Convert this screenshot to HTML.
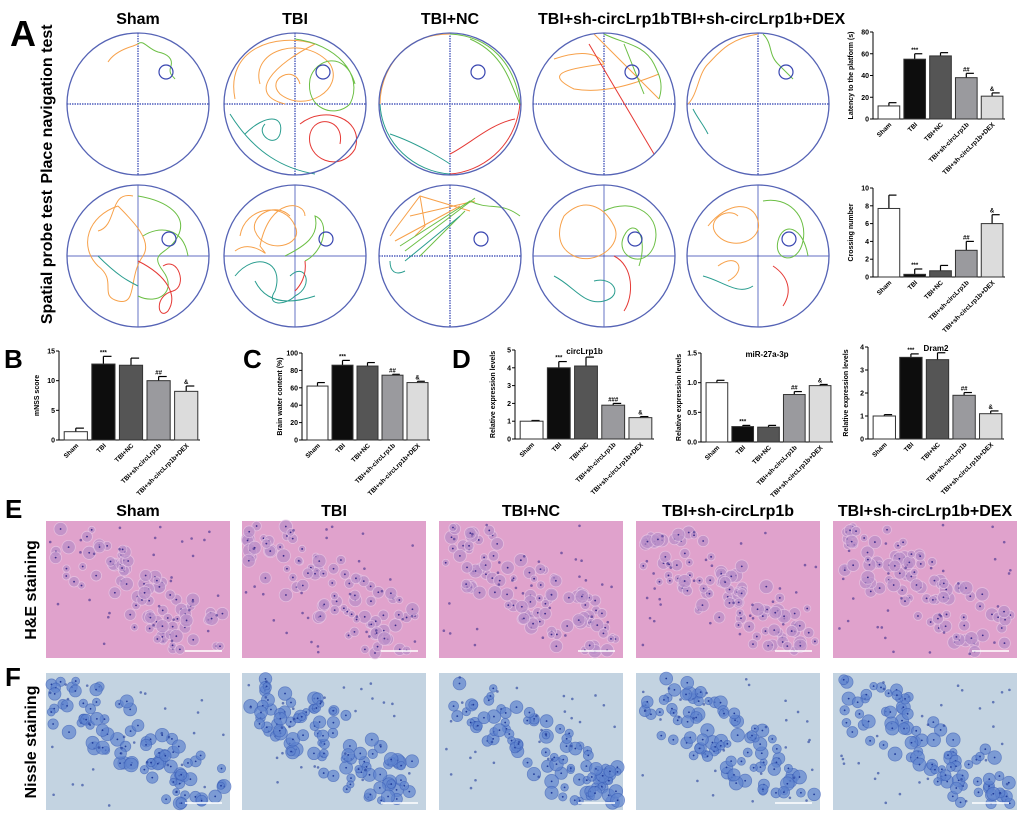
<!DOCTYPE html>
<html><head><meta charset="utf-8">
<style>
html,body{margin:0;padding:0;background:#fff;}
svg{display:block;font-family:"Liberation Sans",Arial,sans-serif;}
</style></head>
<body>
<svg id="fig" width="1020" height="815" viewBox="0 0 1020 815">
<g id="labels" font-weight="bold" fill="#000">
  <text x="10" y="46" font-size="36">A</text>
  <text x="4" y="368" font-size="26">B</text>
  <text x="243" y="368" font-size="26">C</text>
  <text x="452" y="368" font-size="26">D</text>
  <text x="5" y="518" font-size="26">E</text>
  <text x="5" y="686" font-size="26">F</text>
  <text transform="translate(52,104) rotate(-90)" text-anchor="middle" font-size="16">Place navigation test</text>
  <text transform="translate(52,257) rotate(-90)" text-anchor="middle" font-size="16">Spatial probe test</text>
  <text transform="translate(36,590) rotate(-90)" text-anchor="middle" font-size="16">H&amp;E staining</text>
  <text transform="translate(36,742) rotate(-90)" text-anchor="middle" font-size="16">Nissle staining</text>
</g>
<g id="maze"></g>
<g id="charts"></g>
<g id="histo"></g>
</svg>
<script>
const NS="http://www.w3.org/2000/svg";
function mk(tag,attrs,parent){const e=document.createElementNS(NS,tag);for(const k in attrs)e.setAttribute(k,attrs[k]);if(parent)parent.appendChild(e);return e;}

const groups=["Sham","TBI","TBI+NC","TBI+sh-circLrp1b","TBI+sh-circLrp1b+DEX"];
const groupLabels=["Sham","TBI","TBI+NC","TBI+sh-circLrp1b","TBI+sh-circLrp1b+DEX"];

// ---- Morris water maze ----
const mazeCx=[138,295,450,604,758];
const mazeRowY=[104,256];
const platformOff=[[28,-32],[31,-17]];
const maze=document.getElementById('maze');
const tracks=[
 [[["#f7a14a","M-30,-42 C-25,-50 -15,-55 -5,-58 L0,-60"],["#6cbf45","M0,-60 C5,-65 10,-55 20,-52 C30,-50 35,-45 33,-38 C30,-30 35,-28 37,-25"]],
  [["#f7a14a","M-35,-20 C-45,-55 10,-70 35,-40 C50,-15 10,10 -15,-10 C-30,-25 0,-40 5,-20"],["#f7a14a","M-60,-5 C-70,-55 -20,-72 20,-60 C-20,-40 -50,-10 -10,0"],["#6cbf45","M0,-65 C40,-60 70,-30 55,0 C40,15 10,5 15,-25 C20,-45 50,-55 60,-20"],["#e53935","M5,20 C30,0 70,15 60,45 C45,70 10,55 15,30 C20,10 50,15 45,40"],["#2a9d8f","M-65,10 C-40,50 -10,65 20,70 M-50,30 C-30,10 -10,10 -15,30 C-20,45 -40,30 -30,20"]],
  [["#f7a14a","M0,-70 C-50,-70 -70,-30 -70,0"],["#6cbf45","M0,-70 C40,-68 65,-40 70,0 C60,-20 55,-50 20,-65"],["#e53935","M70,0 C65,45 30,68 0,70 M65,15 C40,20 20,40 0,50"],["#2a9d8f","M-70,0 C-68,40 -35,68 0,70 M-60,30 C-30,40 0,60 0,60"]],
  [["#f7a14a","M-50,-45 C-20,-55 -5,-50 0,-40 C-40,-35 -60,-30 -30,-15 C0,-10 30,-20 55,-30 M-10,-70 L55,-5"],["#6cbf45","M0,-70 C20,-60 40,-60 50,-40 C55,-30 60,-20 55,-5 M20,-60 L40,-10"],["#e53935","M-15,-60 L50,50"]],
  [["#f7a14a","M0,-70 C-30,-65 -40,-50 -50,-40 C-60,-30 -60,-10 -70,0"],["#6cbf45","M5,-70 C15,-60 10,-50 20,-40 C25,-35 30,-30 35,-25"],["#2a9d8f","M-65,5 C-60,15 -55,20 -50,30"]]],
 [[["#f7a14a","M-20,-50 C-50,-40 -60,-10 -40,10 C-20,25 -40,40 -20,45 C0,50 -10,20 5,0 C15,-15 -5,-35 -20,-50 M-5,-60 C-30,-65 -20,-30 -40,-25"],["#6cbf45","M0,-60 C30,-55 50,-40 40,-20 C30,0 10,-5 25,15 C40,35 20,50 0,40 M5,-20 C20,-30 45,-30 50,0"],["#2a9d8f","M-40,0 C-20,20 -10,25 0,30"],["#e53935","M0,5 C30,20 40,40 30,55 C20,65 15,40 35,35 C50,30 40,0 25,10"]],
  [["#f7a14a","M-55,-20 C-50,-50 -10,-55 0,-30 C10,-10 -30,0 -40,-25 C-45,-40 -20,-55 -5,-40 M-60,-5 C-40,-20 -20,10 -35,-10 C-25,-60 10,-55 10,-40"],["#2a9d8f","M-60,20 C-40,-5 -10,5 -20,35 C-30,50 -10,50 0,40 C20,30 10,5 -5,20 M-40,25 C-30,45 -10,50 20,40"],["#6cbf45","M-10,0 C10,-10 25,-20 20,-40 C35,-35 30,-5 10,5"],["#e53935","M10,5 C12,20 5,30 0,35"]],
  [["#f7a14a","M-60,-20 L-30,-60 L20,-45 M-55,-15 L10,-50 M-40,-40 L25,-55 M-30,-60 L-25,-30 L-35,-20"],["#6cbf45","M-50,-10 L20,-55 C40,-45 50,-55 70,-40 M-30,0 L15,-45 M-45,-5 L25,-58"],["#2a9d8f","M-45,5 L10,-40 M-60,5 C-60,15 -55,20 -45,15"]],
  [["#f7a14a","M-40,-40 C-20,-60 0,-50 10,-30 C20,-10 -10,10 -30,0 C-50,-10 -45,-30 -40,-40"],["#6cbf45","M0,-45 C30,-60 60,-40 50,-10 C40,15 10,0 20,-20 C30,-40 45,-20 35,10"],["#2a9d8f","M-50,20 C-30,30 -20,50 0,45 C20,40 10,20 -10,25"],["#e53935","M10,0 C30,10 30,40 20,55"]],
  [["#f7a14a","M-50,-30 C-30,-55 -5,-55 0,-35 C5,-15 -25,-5 -40,-20 C-55,-35 -30,-50 -20,-40 M-40,10 C-20,-5 -10,15 -30,25"],["#6cbf45","M5,-55 C30,-60 50,-40 45,-15 C40,10 15,5 20,-15 C25,-35 45,-30 50,0"],["#2a9d8f","M-55,20 C-35,25 -20,40 -5,30"],["#e53935","M15,10 C30,20 35,35 25,50"]]]
];
mazeRowY.forEach((cy,r)=>{
 mazeCx.forEach((cx,i)=>{
  const g=mk('g',{},maze);
  
  
  const dotted=(r==0)||(i==2);
  mk('line',{x1:cx-71,y1:cy,x2:cx+71,y2:cy,stroke:'#2c3fb0','stroke-width':1.2,'stroke-dasharray':dotted?'1.5,1':'none',opacity:dotted?1:0.6},g);
  mk('line',{x1:cx,y1:cy-71,x2:cx,y2:cy+71,stroke:'#2c3fb0','stroke-width':1.2,'stroke-dasharray':dotted?'1.5,1':'none',opacity:dotted?1:0.6},g);
  tracks[r][i].forEach(t=>mk('path',{d:t[1],transform:`translate(${cx},${cy})`,fill:'none',stroke:t[0],'stroke-width':1},g));
  mk('circle',{cx:cx,cy:cy,r:71,fill:'none',stroke:'#5563b5','stroke-width':1.3},g);
  mk('circle',{cx:cx+platformOff[r][0],cy:cy+platformOff[r][1],r:7,fill:'none',stroke:'#3845b0','stroke-width':1.2},g);
  if(r==0){const t=mk('text',{x:cx,y:24,'text-anchor':'middle','font-size':16,'font-weight':'bold'},maze);t.textContent=groups[i];
   }
 });
});

// ---- Bar chart data ----
const latencyValues=[12,55,58,38,21];
const latencyErrors=[3,5,3,4,3];
const latencyAnn=["","***","","##","&"];
const latencyTicks=[0,20,40,60,80];
const crossingValues=[7.7,0.3,0.7,3,6];
const crossingErrors=[1.5,0.6,0.6,1,1];
const crossingAnn=["","***","","##","&"];
const crossingTicks=[0,2,4,6,8,10];
const mnssValues=[1.4,12.8,12.6,10,8.2];
const mnssErrors=[0.6,1.3,1.2,0.7,0.9];
const mnssAnn=["","***","","##","&"];
const mnssTicks=[0,5,10,15];
const waterValues=[62,86,85,74.5,66];
const waterErrors=[4,5.5,4,1,1.5];
const waterAnn=["","***","","##","&"];
const waterTicks=[0,20,40,60,80,100];
const circValues=[1,4,4.1,1.9,1.2];
const circErrors=[0.04,0.35,0.5,0.1,0.06];
const circAnn=["","***","","###","&"];
const circTicks=[0,1,2,3,4,5];
const mirValues=[1,0.26,0.25,0.8,0.95];
const mirErrors=[0.04,0.02,0.03,0.05,0.02];
const mirAnn=["","***","","##","&"];
const mirTicks=[0,0.5,1.0,1.5];
const dramValues=[1,3.55,3.45,1.9,1.1];
const dramErrors=[0.06,0.15,0.3,0.12,0.12];
const dramAnn=["","***","","##","&"];
const dramTicks=[0,1,2,3,4];
const barFills=["#ffffff","#0d0d0d","#555555","#9a9a9e","#dcdcdc"];

const charts=document.getElementById('charts');
function barChart(name,box,ticks,tickFmt,values,errors,ann,ylabel,title){
 const g=mk('g',{},charts);
 
 
 const ymax=ticks[ticks.length-1];
 const y=v=>box.y0-(v/ymax)*(box.y0-box.yt);
 const slot=(box.x1-box.x0-3)/values.length;
 const x=i=>box.x0+3+slot*i+slot*0.08;
 const bw=slot*0.84;
 mk('line',{x1:box.x0,y1:box.yt,x2:box.x0,y2:box.y0,stroke:'#000','stroke-width':1},g);
 mk('line',{x1:box.x0,y1:box.y0,x2:box.x1,y2:box.y0,stroke:'#000','stroke-width':1},g);
 ticks.forEach(t=>{
  mk('line',{x1:box.x0-3,y1:y(t),x2:box.x0,y2:y(t),stroke:'#000'},g);
  const tx=mk('text',{x:box.x0-4,y:y(t)+2.5,'text-anchor':'end','font-size':7,'font-weight':'bold'},g);
  tx.textContent=tickFmt(t);
  
  
 });
 values.forEach((v,i)=>{
  const ex=x(i)+bw/2;
  mk('line',{x1:ex,y1:y(v),x2:ex,y2:y(v+errors[i]),stroke:'#000','stroke-width':1.2},g);
  mk('line',{x1:ex,y1:y(v+errors[i]),x2:ex+bw*0.35,y2:y(v+errors[i]),stroke:'#000','stroke-width':1.2},g);
  const r=mk('rect',{x:x(i),y:y(v),width:bw,height:box.y0-y(v),fill:barFills[i],stroke:'#333','stroke-width':1},g);
  
  
  if(ann[i]){const a=mk('text',{x:ex,y:y(v+errors[i])-2,'text-anchor':'middle','font-size':6,'font-weight':'bold'},g);a.textContent=ann[i];
   }
  const lx=mk('text',{transform:`translate(${ex+3},${box.y0+6}) rotate(-45)`,'text-anchor':'end','font-size':6.5,'font-weight':'bold'},g);
  lx.textContent=groupLabels[i];
  
  
 });
 const yl=mk('text',{transform:`translate(${box.x0-20},${(box.y0+box.yt)/2}) rotate(-90)`,'text-anchor':'middle','font-size':7,'font-weight':'bold'},g);
 yl.textContent=ylabel;
 
 
 if(title){const t=mk('text',{x:(box.x0+box.x1)/2,y:box.yt+4,'text-anchor':'middle','font-size':8,'font-weight':'bold'},g);t.textContent=title;
  }
}
const intF=t=>String(t), oneF=t=>t.toFixed(1);
barChart('latency-chart',{x0:873,x1:1005,y0:119,yt:32},latencyTicks,intF,latencyValues,latencyErrors,latencyAnn,'Latency to the platform (s)');
barChart('crossing-chart',{x0:873,x1:1005,y0:277,yt:188},crossingTicks,intF,crossingValues,crossingErrors,crossingAnn,'Crossing number');
barChart('mnss-chart',{x0:59,x1:200,y0:440,yt:351},mnssTicks,intF,mnssValues,mnssErrors,mnssAnn,'mNSS score');
barChart('brain-water-chart',{x0:302,x1:430,y0:440,yt:353},waterTicks,intF,waterValues,waterErrors,waterAnn,'Brain water content (%)');
barChart('circlrp1b-chart',{x0:515,x1:654,y0:439,yt:350},circTicks,intF,circValues,circErrors,circAnn,'Relative expression levels','circLrp1b');
barChart('mir27a-chart',{x0:701,x1:833,y0:442,yt:353},mirTicks,oneF,mirValues,mirErrors,mirAnn,'Relative expression levels','miR-27a-3p');
barChart('dram2-chart',{x0:868,x1:1004,y0:439,yt:347},dramTicks,intF,dramValues,dramErrors,dramAnn,'Relative expression levels','Dram2');

// ---- Histology (decorative texture) ----
const histo=document.getElementById('histo');
const imgX=[46,242,439,636,833];
let seed=7;function rnd(){seed=(seed*16807)%2147483647;return seed/2147483647;}
function tissue(x0,y0,w,h,bg,cell,cellEdge,nuc,name){
 const g=mk('g',{},histo);
 
 
 mk('rect',{x:x0,y:y0,width:w,height:h,fill:bg},g);
 for(let k=0;k<110;k++){
  const t=rnd();const off=(rnd()-0.5)*75;
  const cx=x0+t*w, cy=y0+t*h*0.9+off+10;
  if(cy<y0+5||cy>y0+h-5||cx<x0+5||cx>x0+w-5)continue;
  const r=3.5+rnd()*3.5;
  mk('circle',{cx:cx,cy:cy,r:r,fill:cell,stroke:cellEdge,'stroke-width':0.8,opacity:0.7},g);
  mk('circle',{cx:cx,cy:cy,r:0.9,fill:nuc},g);
 }
 for(let k=0;k<30;k++){
  mk('circle',{cx:x0+4+rnd()*(w-8),cy:y0+4+rnd()*(h-8),r:1.3,fill:nuc,opacity:0.6},g);
 }
 mk('line',{x1:x0+w-45,y1:y0+h-7,x2:x0+w-8,y2:y0+h-7,stroke:'#fff','stroke-width':1.5},g);
}
imgX.forEach((x,i)=>{
 const t=mk('text',{x:x+92,y:516,'text-anchor':'middle','font-size':16,'font-weight':'bold'},histo);
 t.textContent=groups[i];
 
 
 tissue(x,521,184,137,'#e0a2cc','#b98fc9','#e9c9e6','#3a2a8a','he-image-'+(i+1));
 tissue(x,673,184,137,'#c3d3e1','#5f84cf','#3e62ba','#1f3a9a','nissl-image-'+(i+1));
});
</script>
</body></html>
